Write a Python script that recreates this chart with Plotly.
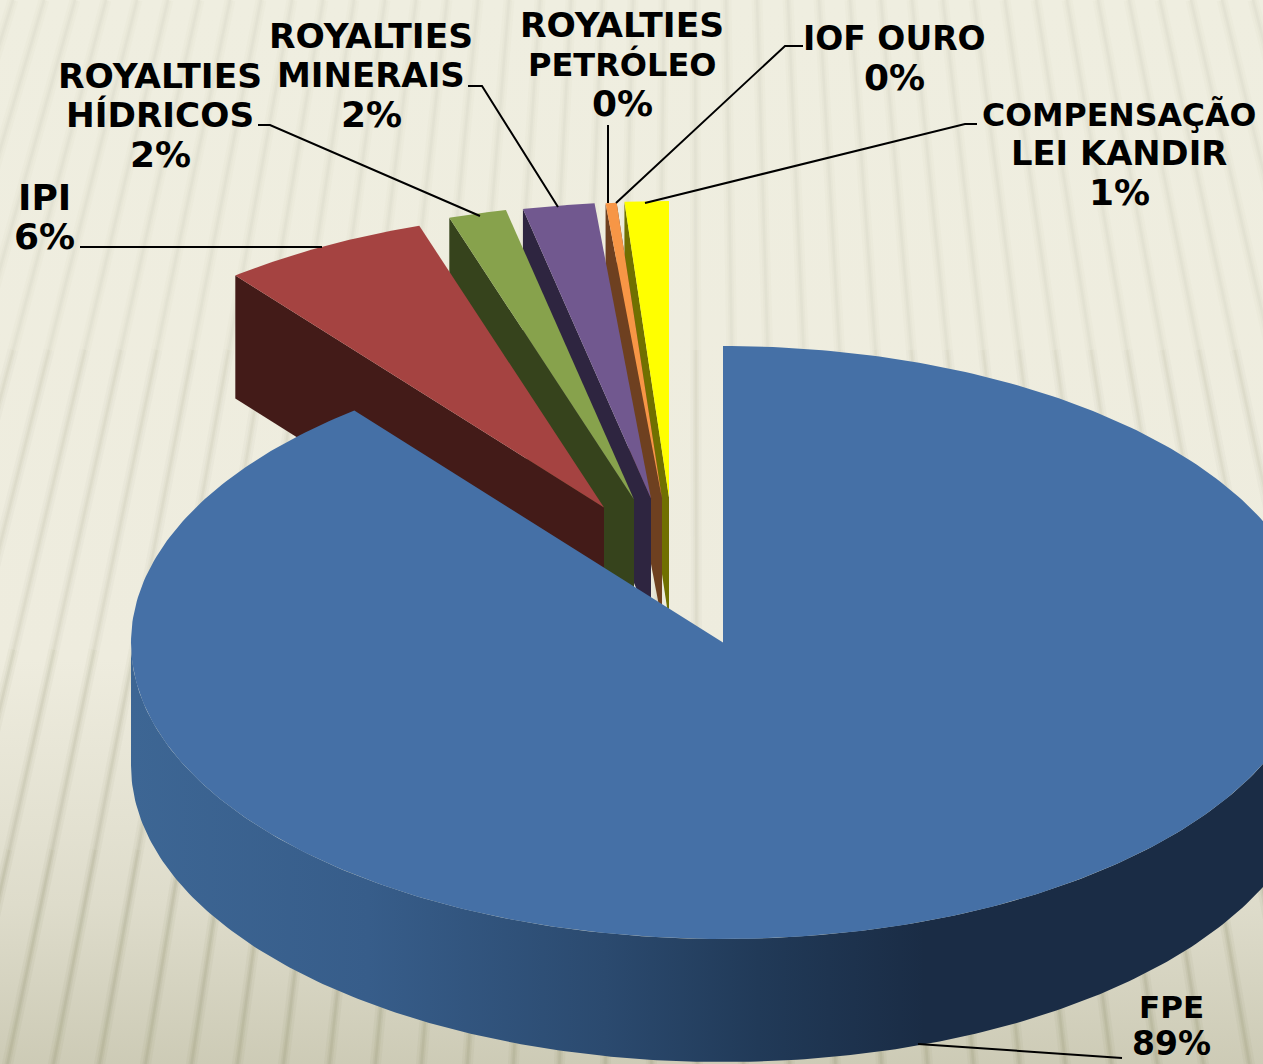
import numpy as np
import plotly.graph_objects as go

# ---- data ----
categories = ["FPE", "IPI", "ROYALTIES HÍDRICOS", "ROYALTIES MINERAIS",
              "ROYALTIES PETRÓLEO", "IOF OURO", "COMPENSAÇÃO LEI KANDIR"]
shares = [89.3, 5.65, 1.58, 1.95, 0.3, 0.02, 1.2]

# ---- style ----
top_colors = ["#4570a6", "#a54341", "#87a24c", "#71588f", "#f79646", "#f3d3b0", "#ffff00"]
wall_colors = ["#294465", "#431b18", "#36431c", "#2e2540", "#6e4020", "#6e4020", "#707000"]
explode_x = [0, -119, -89, -72, -61, -61, -54]
explode_y = [0, -135, -143, -144, -144, -144, -145]
label_lines = [["FPE"], ["IPI"], ["ROYALTIES", "HÍDRICOS"], ["ROYALTIES", "MINERAIS"],
               ["ROYALTIES", "PETRÓLEO"], ["IOF OURO"], ["COMPENSAÇÃO", "LEI KANDIR"]]
label_x = [1171, 44, 160, 371, 622, 894, 1119]
label_first_y = [1007, 197, 76, 36, 25, 38, 114]
label_step = [36, 39, 39, 39, 39, 39, 39]
text_sizes = {"FPE": 31, "IPI": 36, "ROYALTIES": 34.5, "HÍDRICOS": 34.3, "MINERAIS": 34,
              "PETRÓLEO": 32, "IOF OURO": 33, "COMPENSAÇÃO": 31.6, "LEI KANDIR": 33.8}
percent_size = 36
leaders = [
    ([918, 1122], [1044, 1058]),
    ([80, 322], [247, 247]),
    ([258, 270, 480], [125, 125, 216]),
    ([468, 482, 558], [86, 86, 207]),
    ([608, 608], [125, 203]),
    ([803, 785, 616], [46, 46, 203]),
    ([977, 965, 645], [124, 124, 203]),
]
CX, CY, RX, RY, DEPTH = 723, 642.5, 592, 296.5, 123
W, H = 1263, 1064


def ell(deg, dx=0, dy=0):
    a = np.radians(deg)
    return CX + dx + RX * np.sin(a), CY + dy - RY * np.cos(a)


fig = go.Figure()

# background: soft vertical gradient and a fan of pale stripes, firmer towards the bottom
fig.add_trace(go.Scatter(
    x=[0, W, W, 0, 0], y=[0, 0, H, H, 0], mode="lines", fill="toself", line_width=0,
    fillgradient=dict(type="vertical", colorscale=[
        [0, "#cdcbb6"], [0.15, "#dedccb"], [0.38, "#eeecde"], [1, "#efeee0"]]),
    hoverinfo="skip", showlegend=False))
xv, yv = 690, -2200
bands = [(0, 350, 0.4), (350, 650, 0.65), (650, 850, 1.0), (850, H + 10, 1.4)]
for y0, y1, k in bands:
    sx, sy = [], []
    for x_at_top in np.arange(-700, 2000, 31):
        f = lambda y: xv + (x_at_top - xv) * (y - yv) / (0 - yv)
        sx += [f(y0), f(y1), None]
        sy += [y0, y1, None]
    for width, alpha in ((11, 0.06), (6, 0.08), (2.5, 0.10)):
        fig.add_trace(go.Scatter(x=sx, y=sy, mode="lines",
                                 line=dict(color=f"rgba(140,140,105,{alpha * k:.3f})", width=width),
                                 hoverinfo="skip", showlegend=False))

# slices, painted back to front
edges = np.concatenate([[0], np.cumsum(shares)]) * 3.6
for i in range(len(shares) - 1, 0, -1):
    a0, a1 = edges[i], min(edges[i + 1], 360)
    dx, dy = explode_x[i], explode_y[i]
    ax, ay = CX + dx, CY + dy
    ex, ey = ell(a0, dx, dy)
    fig.add_trace(go.Scatter(
        x=[ex, ex, ax, ax, ex], y=[ey, ey + DEPTH, ay + DEPTH, ay, ey],
        mode="lines", fill="toself", fillcolor=wall_colors[i], line_width=0,
        hoverinfo="skip", showlegend=False))
    t = np.linspace(a0, a1, 40)
    px, py = ell(t, dx, dy)
    fig.add_trace(go.Scatter(
        x=np.r_[ax, px, ax], y=np.r_[ay, py, ay], mode="lines", fill="toself",
        fillcolor=top_colors[i], line_width=0, name=categories[i],
        hoverinfo="name", showlegend=False))

# FPE outer wall with a horizontal shading gradient
t = np.linspace(90, 270, 240)
px, py = ell(t)
fig.add_trace(go.Scatter(
    x=np.r_[px, px[::-1], px[0]], y=np.r_[py, py[::-1] + DEPTH, py[0]],
    mode="lines", fill="toself", line_width=0,
    fillgradient=dict(type="horizontal", colorscale=[
        [0, "#3d6694"], [0.2, "#375d8a"], [0.4, "#2b4a6f"], [0.53, "#213a58"],
        [0.67, "#1a2c45"], [1, "#1a2c45"]]),
    hoverinfo="skip", showlegend=False))
# FPE top
t = np.linspace(edges[0], edges[1], 400)
px, py = ell(t)
fig.add_trace(go.Scatter(
    x=np.r_[CX, px, CX], y=np.r_[CY, py, CY], mode="lines", fill="toself",
    fillcolor=top_colors[0], line_width=0, name=categories[0],
    hoverinfo="name", showlegend=False))

# leader lines
for lx, ly in leaders:
    fig.add_trace(go.Scatter(x=lx, y=ly, mode="lines", line=dict(color="black", width=2),
                             hoverinfo="skip", showlegend=False))

# labels
for i, lines in enumerate(label_lines):
    for j, s in enumerate(lines + [f"{round(shares[i])}%"]):
        size = text_sizes.get(s, percent_size)
        if categories[i] == "FPE" and s.endswith("%"):
            size = 33
        fig.add_annotation(x=label_x[i], y=label_first_y[i] + j * label_step[i], text=f"<b>{s}</b>",
                           showarrow=False, xanchor="center", yanchor="middle",
                           font=dict(family="DejaVu Sans", size=size, color="black"))

fig.update_layout(
    width=W, height=H, margin=dict(l=0, r=0, t=0, b=0),
    paper_bgcolor="#eeecdf", plot_bgcolor="rgba(0,0,0,0)", showlegend=False,
    xaxis=dict(range=[0, W], visible=False, fixedrange=True),
    yaxis=dict(range=[H, 0], visible=False, fixedrange=True),
)
fig.write_html("out.html", config={"displayModeBar": False},
               post_script="document.body.style.margin='0';document.body.style.overflow='hidden';")
